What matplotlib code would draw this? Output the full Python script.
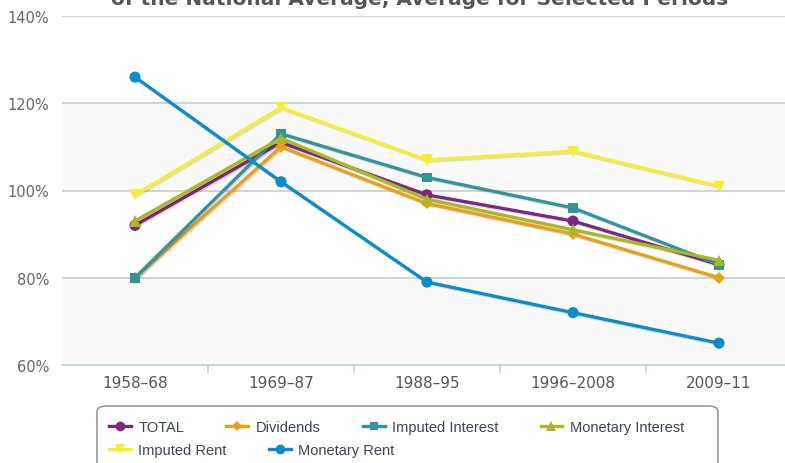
import matplotlib
matplotlib.use('Agg')
import matplotlib.pyplot as plt
import matplotlib.patheffects as pe
from matplotlib.patches import FancyBboxPatch
from matplotlib.lines import Line2D

# ---- data ----
periods = ['1958\u201368', '1969\u201387', '1988\u201395', '1996\u20132008', '2009\u201311']
total = [92, 111, 99, 93, 83]
dividends = [80, 110, 97, 90, 80]
imputed_interest = [80, 113, 103, 96, 83]
monetary_interest = [93, 112, 98, 91, 84]
imputed_rent = [99, 119, 107, 109, 101]
monetary_rent = [126, 102, 79, 72, 65]

series = [
    ('TOTAL', total, '#7b2a83', 'o', 8),
    ('Dividends', dividends, '#e8a219', 'D', 6),
    ('Imputed Interest', imputed_interest, '#35949b', 's', 7),
    ('Monetary Interest', monetary_interest, '#a9b823', '^', 8),
    ('Imputed Rent', imputed_rent, '#f6ef30', 'v', 8),
    ('Monetary Rent', monetary_rent, '#0b8dc9', 'o', 8),
]

W, H = 785, 464
fig = plt.figure(figsize=(W / 100, H / 100), dpi=100)

# axes extends past the right edge like the cropped original
ax = fig.add_axes([62 / W, 1 - 366 / H, 730 / W, 349 / H])
ax.set_xlim(-0.5, 4.5)
ax.set_ylim(60, 140)

# alternating bands
for lo, hi in [(60, 80), (100, 120)]:
    ax.axhspan(lo, hi, color='#f9f9f9', zorder=0, lw=0)
for yv in [80, 100, 120, 140]:
    ax.axhline(yv, color='#c8c8c8', lw=1.1, zorder=1)

shadow = [pe.SimpleLineShadow(offset=(1, -1), shadow_color='black', alpha=0.12), pe.Normal()]
xs = list(range(len(periods)))
for name, vals, col, mk, ms in series:
    ax.plot(xs, vals, color=col, lw=2.4, marker=mk, markersize=ms,
            markeredgewidth=0, zorder=3, path_effects=shadow)

for s in ['top', 'right', 'left']:
    ax.spines[s].set_visible(False)
ax.spines['bottom'].set_color('#c0d0e0')
ax.spines['bottom'].set_linewidth(1.2)

ax.set_yticks([60, 80, 100, 120, 140])
ax.set_yticklabels(['60%', '80%', '100%', '120%', '140%'])
ax.tick_params(axis='y', length=0, pad=9, labelsize=10.5, labelcolor='#666666')

ax.set_xticks(xs)
ax.set_xticklabels(periods)
ax.tick_params(axis='x', length=0, pad=7, labelsize=11, labelcolor='#555555')
ax.set_xticks([0.5, 1.5, 2.5, 3.5], minor=True)
ax.tick_params(axis='x', which='minor', length=6, width=1.2, color='#c0d0e0')

# title, cut off at the top of the picture as in the original
fig.text(420 / W, 1 - 5 / H, 'of the National Average, Average for Selected Periods',
         ha='center', va='baseline', fontsize=14.5, fontweight='bold', color='#555555')

# legend frame
box = FancyBboxPatch((97 / W, -0.05), 621 / W, (1 - 407 / H) + 0.05,
                     boxstyle='round,pad=0,rounding_size=0.012',
                     transform=fig.transFigure, facecolor='white',
                     edgecolor='#999999', lw=1.2)
fig.patches.append(box)

def make_handles(items):
    hs = []
    for name, vals, col, mk, ms in items:
        hs.append(Line2D([], [], color=col, lw=2.4, marker=mk, markersize=ms - 1,
                         markeredgewidth=0, label=name))
    return hs

leg_kw = dict(frameon=False, handlelength=1.5, handletextpad=0.5, columnspacing=2.9,
              prop={'family': 'Liberation Sans', 'size': 10.5}, labelcolor='#3c4555',
              borderaxespad=0, borderpad=0, loc='center left')
row1 = fig.legend(handles=make_handles(series[:4]), ncol=4,
                  bbox_to_anchor=(109 / W, 1 - 428 / H), **leg_kw)
row2 = fig.legend(handles=make_handles(series[4:]), ncol=2,
                  bbox_to_anchor=(109 / W, 1 - 451 / H), **leg_kw)

fig.savefig('out.png', dpi=100)
